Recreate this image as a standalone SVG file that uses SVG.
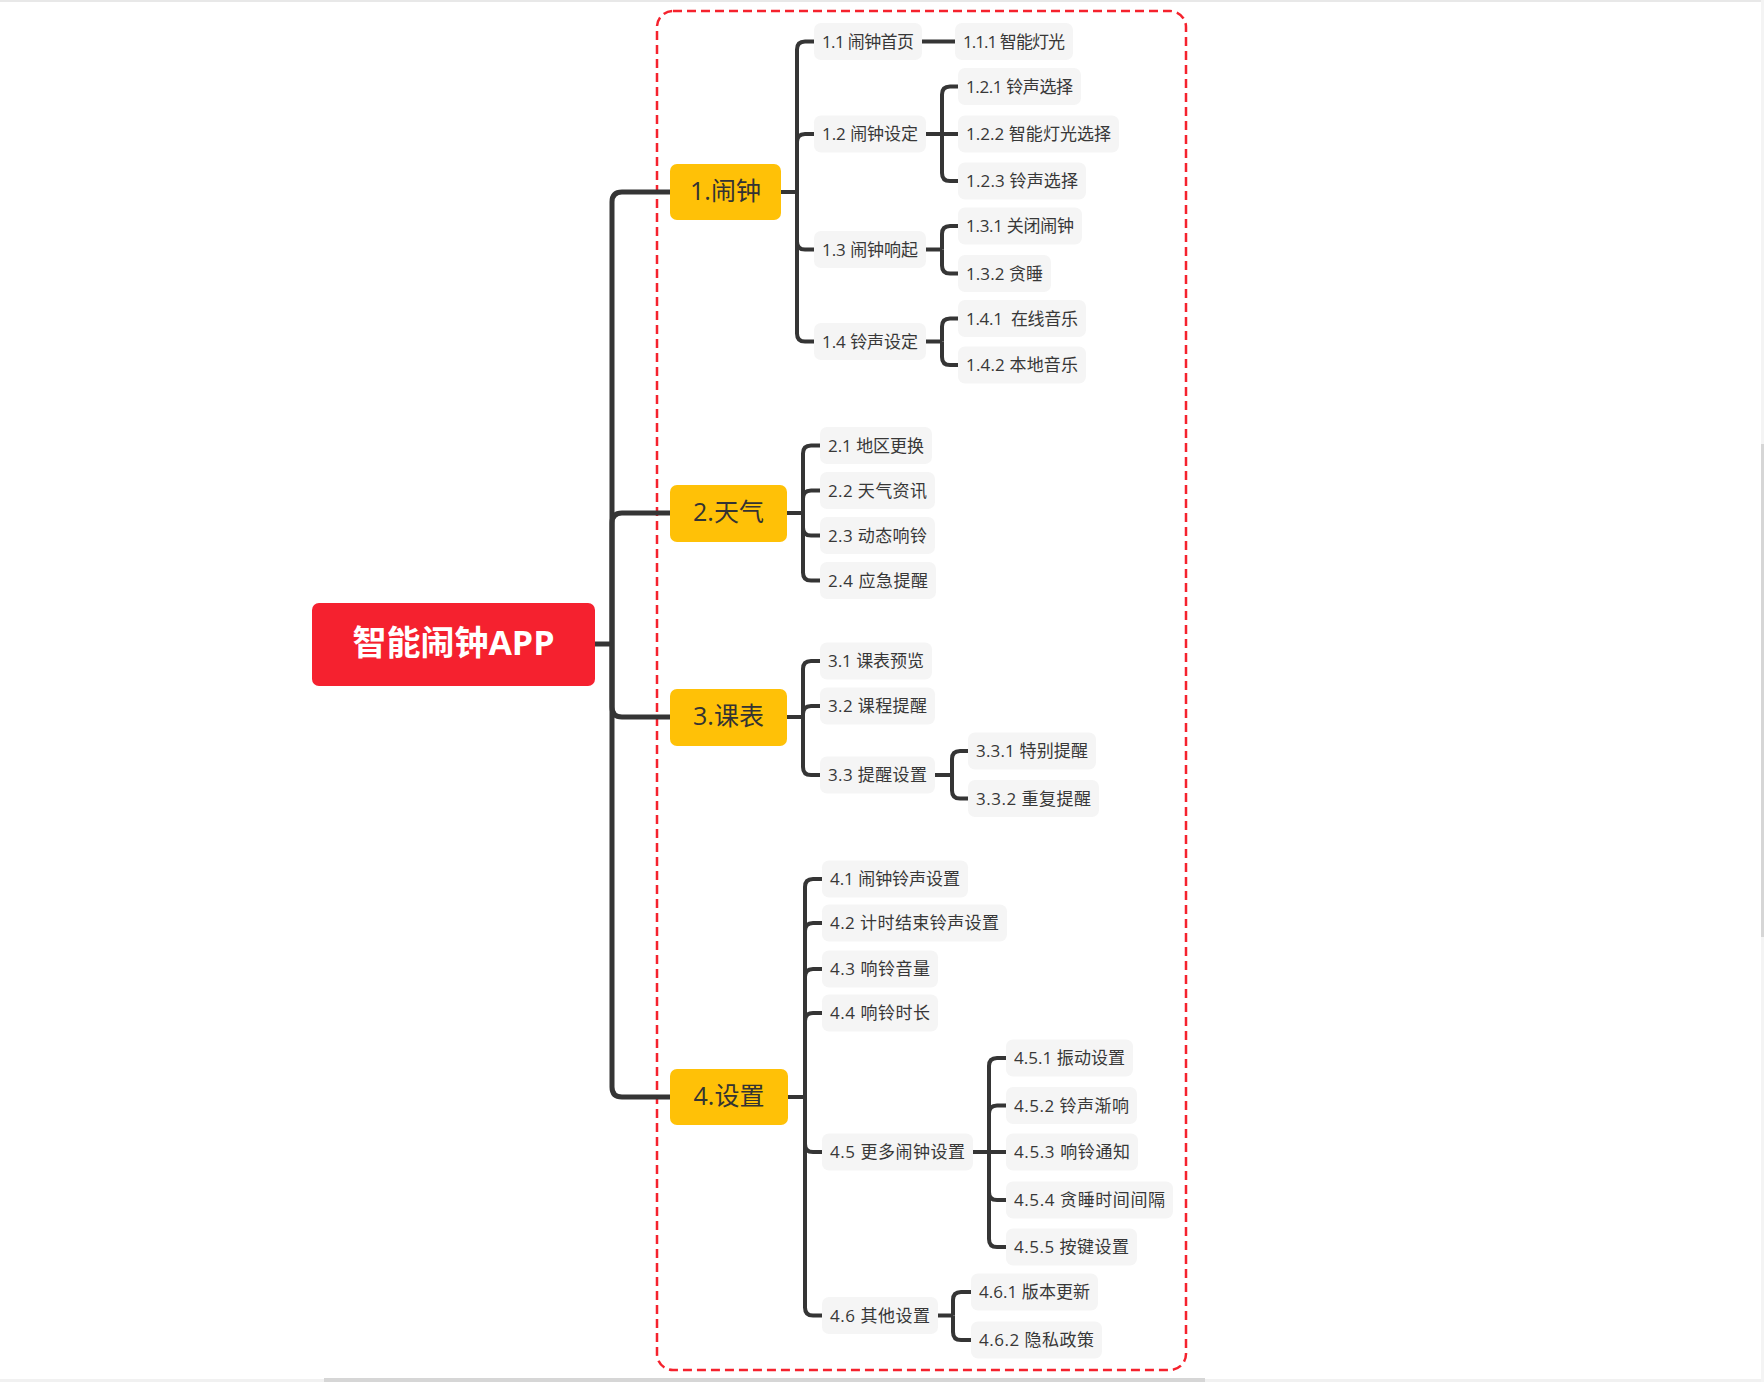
<svg xmlns="http://www.w3.org/2000/svg" width="1764" height="1382" viewBox="0 0 1764 1382">
<style>
  text { font-family: "Open Sans", "Noto Sans CJK SC", sans-serif; dominant-baseline: central; }
  .root rect { fill: #F5212F; }
  .root text { fill: #FFFFFF; font-size: 34px; font-weight: bold; text-anchor: middle; transform: translateY(-2.5px); }
  .l1 rect { fill: #FFC107; }
  .l1 text { fill: #333333; font-size: 25px; text-anchor: middle; transform: translateY(-2.5px); }
  .l2 rect { fill: #F5F5F5; }
  .l2 text { fill: #383838; font-size: 17px; transform: translateY(-0.5px); }
  .conn path { fill: none; stroke: #353535; stroke-width: 4; stroke-linecap: butt; }
  .conn path.trunk { stroke-width: 5; }
  .frame { fill: none; stroke: #F5222D; stroke-width: 2.5; stroke-dasharray: 9 5; }
</style>
<rect x="0" y="0" width="1764" height="1382" fill="#FFFFFF"/>
<rect x="0" y="0" width="1764" height="2" fill="#E8E8E8"/>
<rect x="0" y="1379" width="1764" height="3" fill="#F1F1F1"/>
<rect x="324" y="1378" width="881" height="4" fill="#D6D6D6"/>
<rect x="1761" y="0" width="3" height="1382" fill="#F4F4F4"/>
<rect x="1761" y="444" width="3" height="493" fill="#D6D6D6"/>

<rect class="frame" x="657" y="11" width="529" height="1359" rx="16" ry="16"/>

<g id="connectors" class="conn">
  <path class="trunk" d="M595 644 H612"/>
  <path class="trunk" d="M612 644 V202 Q612 192 622 192 H670"/>
  <path class="trunk" d="M612 644 V523 Q612 513 622 513 H670"/>
  <path class="trunk" d="M612 644 V707 Q612 717 622 717 H670"/>
  <path class="trunk" d="M612 644 V1087 Q612 1097 622 1097 H670"/>
  <path d="M781 192 H797"/>
  <path d="M797 192 V49.5 Q797 41.5 805 41.5 H814"/>
  <path d="M797 192 V142 Q797 134 805 134 H814"/>
  <path d="M797 192 V241.5 Q797 249.5 805 249.5 H814"/>
  <path d="M797 192 V333.5 Q797 341.5 805 341.5 H814"/>
  <path d="M922 41.5 H955"/>
  <path d="M926 134 H942"/>
  <path d="M942 134 V94.5 Q942 86.5 950 86.5 H958"/>
  <path d="M942 134 H958"/>
  <path d="M942 134 V173 Q942 181 950 181 H958"/>
  <path d="M926 249.5 H942"/>
  <path d="M942 249.5 V234 Q942 226 950 226 H958"/>
  <path d="M942 249.5 V265.5 Q942 273.5 950 273.5 H958"/>
  <path d="M926 341.5 H942"/>
  <path d="M942 341.5 V326.5 Q942 318.5 950 318.5 H958"/>
  <path d="M942 341.5 V357 Q942 365 950 365 H958"/>
  <path d="M787 513 H803"/>
  <path d="M803 513 V453.5 Q803 445.5 811 445.5 H820"/>
  <path d="M803 513 V498.5 Q803 490.5 811 490.5 H820"/>
  <path d="M803 513 V527.5 Q803 535.5 811 535.5 H820"/>
  <path d="M803 513 V572.5 Q803 580.5 811 580.5 H820"/>
  <path d="M787 717 H803"/>
  <path d="M803 717 V669 Q803 661 811 661 H820"/>
  <path d="M803 717 V714 Q803 706 811 706 H820"/>
  <path d="M803 717 V767 Q803 775 811 775 H820"/>
  <path d="M935 775 H952"/>
  <path d="M952 775 V759 Q952 751 960 751 H968"/>
  <path d="M952 775 V790.5 Q952 798.5 960 798.5 H968"/>
  <path d="M788 1097 H805"/>
  <path d="M805 1097 V887 Q805 879 813 879 H822"/>
  <path d="M805 1097 V931 Q805 923 813 923 H822"/>
  <path d="M805 1097 V977 Q805 969 813 969 H822"/>
  <path d="M805 1097 V1021 Q805 1013 813 1013 H822"/>
  <path d="M805 1097 V1144 Q805 1152 813 1152 H822"/>
  <path d="M805 1097 V1307.5 Q805 1315.5 813 1315.5 H822"/>
  <path d="M973 1152 H989"/>
  <path d="M989 1152 V1066 Q989 1058 997 1058 H1006"/>
  <path d="M989 1152 V1113.5 Q989 1105.5 997 1105.5 H1006"/>
  <path d="M989 1152 H1006"/>
  <path d="M989 1152 V1192 Q989 1200 997 1200 H1006"/>
  <path d="M989 1152 V1239 Q989 1247 997 1247 H1006"/>
  <path d="M938 1315.5 H953"/>
  <path d="M953 1315.5 V1300 Q953 1292 961 1292 H971"/>
  <path d="M953 1315.5 V1332 Q953 1340 961 1340 H971"/>
</g>

<g id="root" class="root"><rect x="312" y="603" width="283" height="83" rx="7"/><text x="453.5" y="644.5">智能闹钟APP</text></g>

<g id="n1" class="l1"><rect x="670" y="164" width="111" height="56" rx="7"/><text x="725.5" y="192">1.闹钟</text></g>
<g id="n2" class="l1"><rect x="670" y="485" width="117" height="57" rx="7"/><text x="728.5" y="513">2.天气</text></g>
<g id="n3" class="l1"><rect x="670" y="689" width="117" height="57" rx="7"/><text x="728.5" y="717">3.课表</text></g>
<g id="n4" class="l1"><rect x="670" y="1069" width="118" height="56" rx="7"/><text x="729" y="1097">4.设置</text></g>

<g id="n1-1" class="l2"><rect x="814" y="23" width="108" height="37" rx="7"/><text x="822" y="41.5" textLength="92" lengthAdjust="spacing">1.1 闹钟首页</text></g>
<g id="n1-1-1" class="l2"><rect x="955" y="23" width="118" height="37" rx="7"/><text x="963" y="41.5" textLength="102" lengthAdjust="spacing">1.1.1 智能灯光</text></g>
<g id="n1-2" class="l2"><rect x="814" y="115.5" width="112" height="37" rx="7"/><text x="822" y="134" textLength="96" lengthAdjust="spacing">1.2 闹钟设定</text></g>
<g id="n1-2-1" class="l2"><rect x="958" y="68" width="123" height="37" rx="7"/><text x="966" y="86.5" textLength="107" lengthAdjust="spacing">1.2.1 铃声选择</text></g>
<g id="n1-2-2" class="l2"><rect x="958" y="115.5" width="161" height="37" rx="7"/><text x="966" y="134" textLength="145" lengthAdjust="spacing">1.2.2 智能灯光选择</text></g>
<g id="n1-2-3" class="l2"><rect x="958" y="162.5" width="128" height="37" rx="7"/><text x="966" y="181" textLength="112" lengthAdjust="spacing">1.2.3 铃声选择</text></g>
<g id="n1-3" class="l2"><rect x="814" y="231" width="112" height="37" rx="7"/><text x="822" y="249.5" textLength="96" lengthAdjust="spacing">1.3 闹钟响起</text></g>
<g id="n1-3-1" class="l2"><rect x="958" y="207.5" width="124" height="37" rx="7"/><text x="966" y="226" textLength="108" lengthAdjust="spacing">1.3.1 关闭闹钟</text></g>
<g id="n1-3-2" class="l2"><rect x="958" y="255" width="93" height="37" rx="7"/><text x="966" y="273.5" textLength="77" lengthAdjust="spacing">1.3.2 贪睡</text></g>
<g id="n1-4" class="l2"><rect x="814" y="323" width="112" height="37" rx="7"/><text x="822" y="341.5" textLength="96" lengthAdjust="spacing">1.4 铃声设定</text></g>
<g id="n1-4-1" class="l2"><rect x="958" y="300" width="128" height="37" rx="7"/><text x="966" y="318.5" xml:space="preserve" textLength="112" lengthAdjust="spacing">1.4.1  在线音乐</text></g>
<g id="n1-4-2" class="l2"><rect x="958" y="346.5" width="128" height="37" rx="7"/><text x="966" y="365" textLength="112" lengthAdjust="spacing">1.4.2 本地音乐</text></g>

<g id="n2-1" class="l2"><rect x="820" y="427" width="112" height="37" rx="7"/><text x="828" y="445.5" textLength="96" lengthAdjust="spacing">2.1 地区更换</text></g>
<g id="n2-2" class="l2"><rect x="820" y="472" width="115" height="37" rx="7"/><text x="828" y="490.5" textLength="99" lengthAdjust="spacing">2.2 天气资讯</text></g>
<g id="n2-3" class="l2"><rect x="820" y="517" width="115" height="37" rx="7"/><text x="828" y="535.5" textLength="99" lengthAdjust="spacing">2.3 动态响铃</text></g>
<g id="n2-4" class="l2"><rect x="820" y="562" width="116" height="37" rx="7"/><text x="828" y="580.5" textLength="100" lengthAdjust="spacing">2.4 应急提醒</text></g>

<g id="n3-1" class="l2"><rect x="820" y="642.5" width="112" height="37" rx="7"/><text x="828" y="661" textLength="96" lengthAdjust="spacing">3.1 课表预览</text></g>
<g id="n3-2" class="l2"><rect x="820" y="687.5" width="115" height="37" rx="7"/><text x="828" y="706" textLength="99" lengthAdjust="spacing">3.2 课程提醒</text></g>
<g id="n3-3" class="l2"><rect x="820" y="756.5" width="115" height="37" rx="7"/><text x="828" y="775" textLength="99" lengthAdjust="spacing">3.3 提醒设置</text></g>
<g id="n3-3-1" class="l2"><rect x="968" y="732.5" width="128" height="37" rx="7"/><text x="976" y="751" textLength="112" lengthAdjust="spacing">3.3.1 特别提醒</text></g>
<g id="n3-3-2" class="l2"><rect x="968" y="780" width="131" height="37" rx="7"/><text x="976" y="798.5" textLength="115" lengthAdjust="spacing">3.3.2 重复提醒</text></g>

<g id="n4-1" class="l2"><rect x="822" y="860.5" width="146" height="37" rx="7"/><text x="830" y="879" textLength="130" lengthAdjust="spacing">4.1 闹钟铃声设置</text></g>
<g id="n4-2" class="l2"><rect x="822" y="904.5" width="185" height="37" rx="7"/><text x="830" y="923" textLength="169" lengthAdjust="spacing">4.2 计时结束铃声设置</text></g>
<g id="n4-3" class="l2"><rect x="822" y="950.5" width="116" height="37" rx="7"/><text x="830" y="969" textLength="100" lengthAdjust="spacing">4.3 响铃音量</text></g>
<g id="n4-4" class="l2"><rect x="822" y="994.5" width="116" height="37" rx="7"/><text x="830" y="1013" textLength="100" lengthAdjust="spacing">4.4 响铃时长</text></g>
<g id="n4-5" class="l2"><rect x="822" y="1133.5" width="151" height="37" rx="7"/><text x="830" y="1152" textLength="135" lengthAdjust="spacing">4.5 更多闹钟设置</text></g>
<g id="n4-5-1" class="l2"><rect x="1006" y="1039.5" width="127" height="37" rx="7"/><text x="1014" y="1058" textLength="111" lengthAdjust="spacing">4.5.1 振动设置</text></g>
<g id="n4-5-2" class="l2"><rect x="1006" y="1087" width="131" height="37" rx="7"/><text x="1014" y="1105.5" textLength="115" lengthAdjust="spacing">4.5.2 铃声渐响</text></g>
<g id="n4-5-3" class="l2"><rect x="1006" y="1133.5" width="132" height="37" rx="7"/><text x="1014" y="1152" textLength="116" lengthAdjust="spacing">4.5.3 响铃通知</text></g>
<g id="n4-5-4" class="l2"><rect x="1006" y="1181.5" width="167" height="37" rx="7"/><text x="1014" y="1200" textLength="151" lengthAdjust="spacing">4.5.4 贪睡时间间隔</text></g>
<g id="n4-5-5" class="l2"><rect x="1006" y="1228.5" width="131" height="37" rx="7"/><text x="1014" y="1247" textLength="115" lengthAdjust="spacing">4.5.5 按键设置</text></g>
<g id="n4-6" class="l2"><rect x="822" y="1297" width="116" height="37" rx="7"/><text x="830" y="1315.5" textLength="100" lengthAdjust="spacing">4.6 其他设置</text></g>
<g id="n4-6-1" class="l2"><rect x="971" y="1273.5" width="127" height="37" rx="7"/><text x="979" y="1292" textLength="111" lengthAdjust="spacing">4.6.1 版本更新</text></g>
<g id="n4-6-2" class="l2"><rect x="971" y="1321.5" width="131" height="37" rx="7"/><text x="979" y="1340" textLength="115" lengthAdjust="spacing">4.6.2 隐私政策</text></g>
</svg>
